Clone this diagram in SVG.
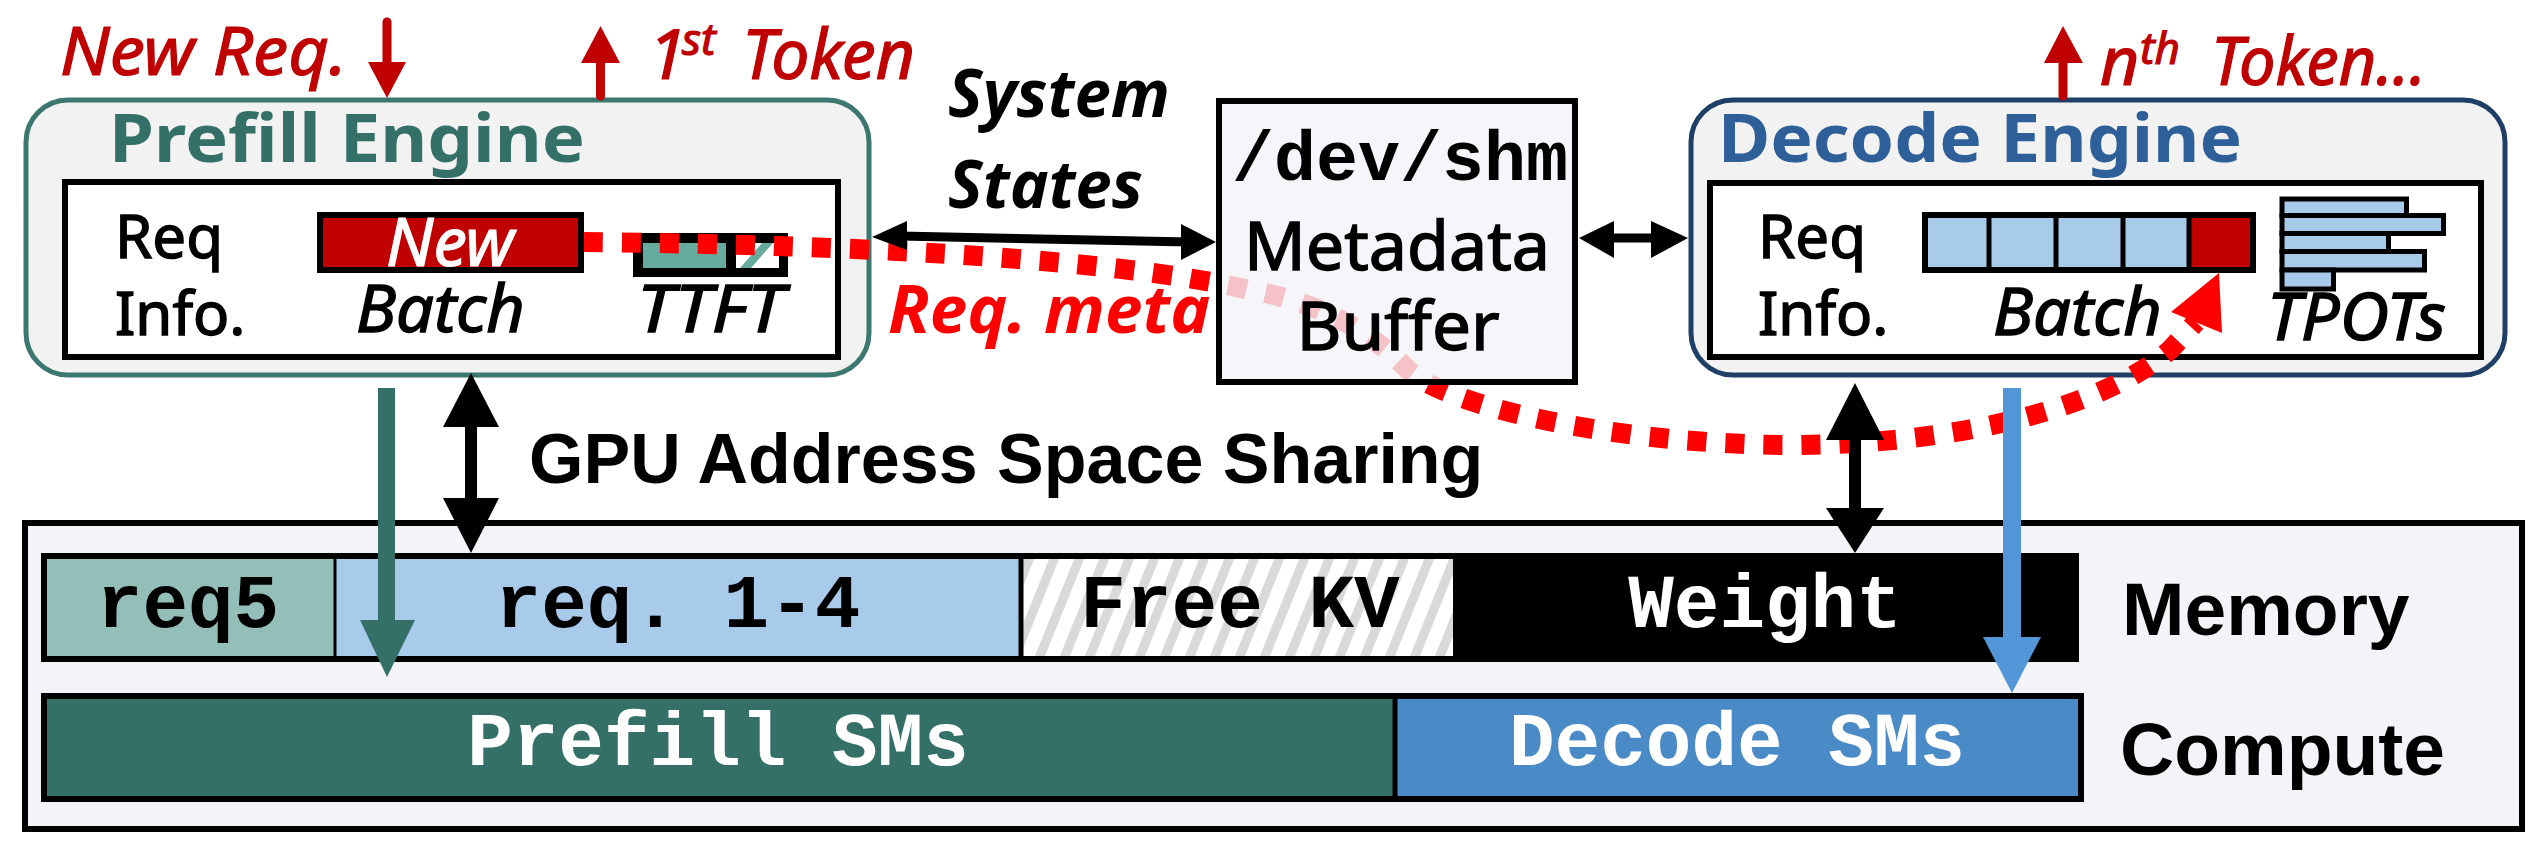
<svg xmlns="http://www.w3.org/2000/svg" width="2538" height="850" viewBox="0 0 2538 850">
<style>
.cal{font-family:"Noto Sans","Open Sans",sans-serif;}
.mono{font-family:"Liberation Mono","Courier New",monospace;font-weight:bold;}
.arial{font-family:"Liberation Sans",Arial,sans-serif;font-weight:bold;}
.red{fill:#C00000;}
.blk{fill:#000;}
.tk{stroke:#000;stroke-width:1.4;}
.tkr{stroke:#C00000;stroke-width:1.2;}
.tkw{stroke:#fff;stroke-width:1.2;}
.bar{stroke:#000;stroke-width:6;}
.eng{fill:#F2F2F2;stroke-width:5;}
.inner{fill:#fff;stroke:#000;stroke-width:6;}
</style>
<defs>
<pattern id="hatch" width="25" height="100" patternUnits="userSpaceOnUse" patternTransform="skewX(-22)">
<rect x="0" y="0" width="25" height="100" fill="#fff"/>
<rect x="0" y="0" width="10" height="100" fill="#D9D9D9"/>
</pattern>
</defs>

<!-- lower panel -->
<g id="gpu">
<rect x="25" y="523" width="2497" height="306" fill="#F4F3F8" stroke="#000" stroke-width="6"/>
<text class="arial" x="2122" y="635" font-size="75">Memory</text>
<text class="arial" x="2120" y="775" font-size="75">Compute</text>
</g>
<g id="memory">
<rect x="44" y="556" width="291" height="103" fill="#93BFB8"/>
<rect x="335" y="556" width="687" height="103" fill="#A8CAEB"/>
<rect x="1022" y="556" width="431" height="103" fill="url(#hatch)"/>
<rect x="1453" y="556" width="623" height="103" fill="#000"/>
<rect x="44" y="556" width="2032" height="103" fill="none" class="bar"/>
<line x1="335" y1="556" x2="335" y2="659" stroke="#000" stroke-width="3"/>
<line x1="1021" y1="556" x2="1021" y2="659" stroke="#000" stroke-width="5"/>
<text class="mono" x="188" y="627" font-size="76" text-anchor="middle">req5</text>
<text class="mono" x="678" y="627" font-size="76" text-anchor="middle">req. 1-4</text>
<text class="mono" x="1240" y="627" font-size="76" text-anchor="middle">Free KV</text>
<text class="mono" x="1765" y="627" font-size="76" text-anchor="middle" fill="#fff">Weight</text>
</g>
<g id="compute">
<rect x="44" y="696" width="1351" height="103" fill="#357068"/>
<rect x="1395" y="696" width="686" height="103" fill="#4A8AC6"/>
<rect x="44" y="696" width="2037" height="103" fill="none" class="bar"/>
<line x1="1395" y1="696" x2="1395" y2="799" stroke="#000" stroke-width="5"/>
<text class="mono" x="718" y="765" font-size="76" text-anchor="middle" fill="#fff">Prefill SMs</text>
<text class="mono" x="1737" y="765" font-size="76" text-anchor="middle" fill="#fff">Decode SMs</text>
</g>

<!-- prefill engine -->
<g id="prefill">
<rect x="26" y="100" width="843" height="275" rx="42" class="eng" stroke="#3C7770"/>
<text class="cal" x="109" y="162" font-size="66" font-weight="bold" fill="#357068" textLength="476" lengthAdjust="spacingAndGlyphs">Prefill Engine</text>
<rect x="65" y="182" width="773" height="175" class="inner"/>
<text class="cal tk" x="115" y="258" font-size="60">Req</text>
<text class="cal tk" x="115" y="335" font-size="60">Info.</text>
<rect x="320" y="215" width="261" height="55" fill="#C00000" stroke="#000" stroke-width="6"/>
<text class="cal tkw" x="450" y="266" font-size="67" font-style="italic" fill="#fff" text-anchor="middle">New</text>
<text class="cal tk" x="356" y="332" font-size="66" font-style="italic" textLength="169" lengthAdjust="spacingAndGlyphs">Batch</text>
<rect x="633" y="233" width="155" height="44" fill="#000"/>
<rect x="643" y="243" width="83" height="25" fill="#67AB9F"/>
<rect x="736" y="243" width="43" height="25" fill="#fff"/>
<polygon points="740,268 751,268 773,243 762,243" fill="#67AB9F"/>
<text class="cal tk" x="637" y="332" font-size="66" font-style="italic" textLength="147" lengthAdjust="spacingAndGlyphs">TTFT</text>
</g>

<!-- decode engine -->
<g id="decode">
<rect x="1691" y="100" width="814" height="275" rx="42" class="eng" stroke="#1F3F66"/>
<text class="cal" x="1718" y="162" font-size="66" font-weight="bold" fill="#2E5F98" textLength="524" lengthAdjust="spacingAndGlyphs">Decode Engine</text>
<rect x="1710" y="183" width="771" height="174" class="inner"/>
<text class="cal tk" x="1758" y="258" font-size="60">Req</text>
<text class="cal tk" x="1758" y="335" font-size="60">Info.</text>
<rect x="1925" y="215" width="264" height="55" fill="#A8CAEB"/>
<rect x="2189" y="215" width="64" height="55" fill="#C00000"/>
<rect x="1925" y="215" width="328" height="55" fill="none" stroke="#000" stroke-width="6"/>
<g stroke="#000" stroke-width="5">
<line x1="1989" y1="215" x2="1989" y2="270"/>
<line x1="2056" y1="215" x2="2056" y2="270"/>
<line x1="2123" y1="215" x2="2123" y2="270"/>
<line x1="2189" y1="215" x2="2189" y2="270"/>
</g>
<g fill="#A8CAEB" stroke="#000" stroke-width="5">
<rect x="2282" y="199" width="124.5" height="16.5"/>
<rect x="2282" y="215.5" width="161.5" height="18"/>
<rect x="2282" y="233.5" width="106.5" height="18"/>
<rect x="2282" y="251.5" width="142.5" height="18.5"/>
<rect x="2282" y="270" width="51.5" height="19"/>
</g>
<text class="cal tk" x="1993" y="335" font-size="66" font-style="italic" textLength="169" lengthAdjust="spacingAndGlyphs">Batch</text>
<text class="cal tk" x="2267" y="340" font-size="66" font-style="italic" textLength="179" lengthAdjust="spacingAndGlyphs">TPOTs</text>
</g>

<!-- connectors -->
<g id="connectors">
<path d="M 584 242 C 800 244, 1100 255, 1250 290 C 1330 304, 1380 340, 1410 372 C 1450 405, 1600 442, 1780 445 C 1950 446, 2100 410, 2170 350 L 2196 322" fill="none" stroke="#FF0000" stroke-width="20" stroke-dasharray="19 19"/>
<polygon points="2219,273 2171,312 2222,333" fill="#FF0000"/>
</g>

<!-- metadata buffer (translucent over red line) -->
<g id="metadata">
<rect x="1219" y="101" width="356" height="281" fill="#F3F2F9" fill-opacity="0.8" stroke="#000" stroke-width="6"/>
<text class="mono" x="1400" y="180" font-size="70" text-anchor="middle">/dev/shm</text>
<text class="cal tk" x="1397" y="270" font-size="67" text-anchor="middle" textLength="306" lengthAdjust="spacingAndGlyphs">Metadata</text>
<text class="cal tk" x="1398" y="350" font-size="67" text-anchor="middle" textLength="203" lengthAdjust="spacingAndGlyphs">Buffer</text>
</g>

<g id="arrows">
<!-- system states double arrow -->
<line x1="900" y1="236" x2="1190" y2="242" stroke="#000" stroke-width="9"/>
<polygon class="blk" points="872,237 907,221 907,250"/>
<polygon class="blk" points="1216,242 1181,224 1181,260"/>
<!-- metadata-decode -->
<line x1="1610" y1="238" x2="1655" y2="238" stroke="#000" stroke-width="9"/>
<polygon class="blk" points="1579,238 1614,221 1614,258"/>
<polygon class="blk" points="1688,238 1651,221 1651,258"/>
<!-- GPU address sharing arrows -->
<line x1="471" y1="420" x2="471" y2="505" stroke="#000" stroke-width="12"/>
<polygon class="blk" points="471,373 443,427 499,427"/>
<polygon class="blk" points="471,553 443,498 499,498"/>
<line x1="1855" y1="435" x2="1855" y2="512" stroke="#000" stroke-width="12"/>
<polygon class="blk" points="1855,383 1826,440 1884,440"/>
<polygon class="blk" points="1855,553 1826,508 1884,508"/>
<!-- teal prefill arrow -->
<rect x="378" y="388" width="17" height="235" fill="#357068"/>
<polygon points="360,620 415,620 387,677" fill="#357068"/>
<!-- blue decode arrow -->
<rect x="2003" y="388" width="18" height="252" fill="#5296D8"/>
<polygon points="1983,637 2041,637 2012,693" fill="#5296D8"/>
<!-- red token arrows -->
<line x1="387" y1="22" x2="387" y2="66" stroke="#C00000" stroke-width="9" stroke-linecap="round"/>
<polygon class="red" points="368,62 406,62 387,98"/>
<line x1="600.5" y1="60" x2="600.5" y2="96" stroke="#C00000" stroke-width="9" stroke-linecap="round"/>
<polygon class="red" points="600.5,26 581,63 620,63"/>
<line x1="2063" y1="60" x2="2063" y2="96" stroke="#C00000" stroke-width="9" stroke-linecap="round"/>
<polygon class="red" points="2063,26 2044,63 2083,63"/>
</g>

<g id="labels">
<text class="cal red tkr" x="60" y="75" font-size="68" font-style="italic" textLength="287" lengthAdjust="spacingAndGlyphs">New Req.</text>
<text class="cal red tkr" x="648" y="79" font-size="70" font-style="italic">1</text>
<text class="cal red tkr" x="682" y="55" font-size="44" font-style="italic">st</text>
<text class="cal red tkr" x="742" y="79" font-size="70" font-style="italic" textLength="173" lengthAdjust="spacingAndGlyphs">Token</text>
<text class="cal red tkr" x="2100" y="85" font-size="68" font-style="italic">n</text>
<text class="cal red tkr" x="2140" y="64" font-size="44" font-style="italic">th</text>
<text class="cal red tkr" x="2211" y="85" font-size="68" font-style="italic" textLength="215" lengthAdjust="spacingAndGlyphs">Token...</text>
<text class="cal" x="948" y="117" font-size="67" font-weight="bold" font-style="italic" textLength="222" lengthAdjust="spacingAndGlyphs">System</text>
<text class="cal" x="948" y="208" font-size="67" font-weight="bold" font-style="italic" textLength="195" lengthAdjust="spacingAndGlyphs">States</text>
<text class="cal" x="888" y="333" font-size="67" font-weight="bold" font-style="italic" fill="#FF0000" textLength="322" lengthAdjust="spacingAndGlyphs">Req. meta</text>
<text class="arial" x="529" y="483" font-size="70">GPU Address Space Sharing</text>
</g>
</svg>
